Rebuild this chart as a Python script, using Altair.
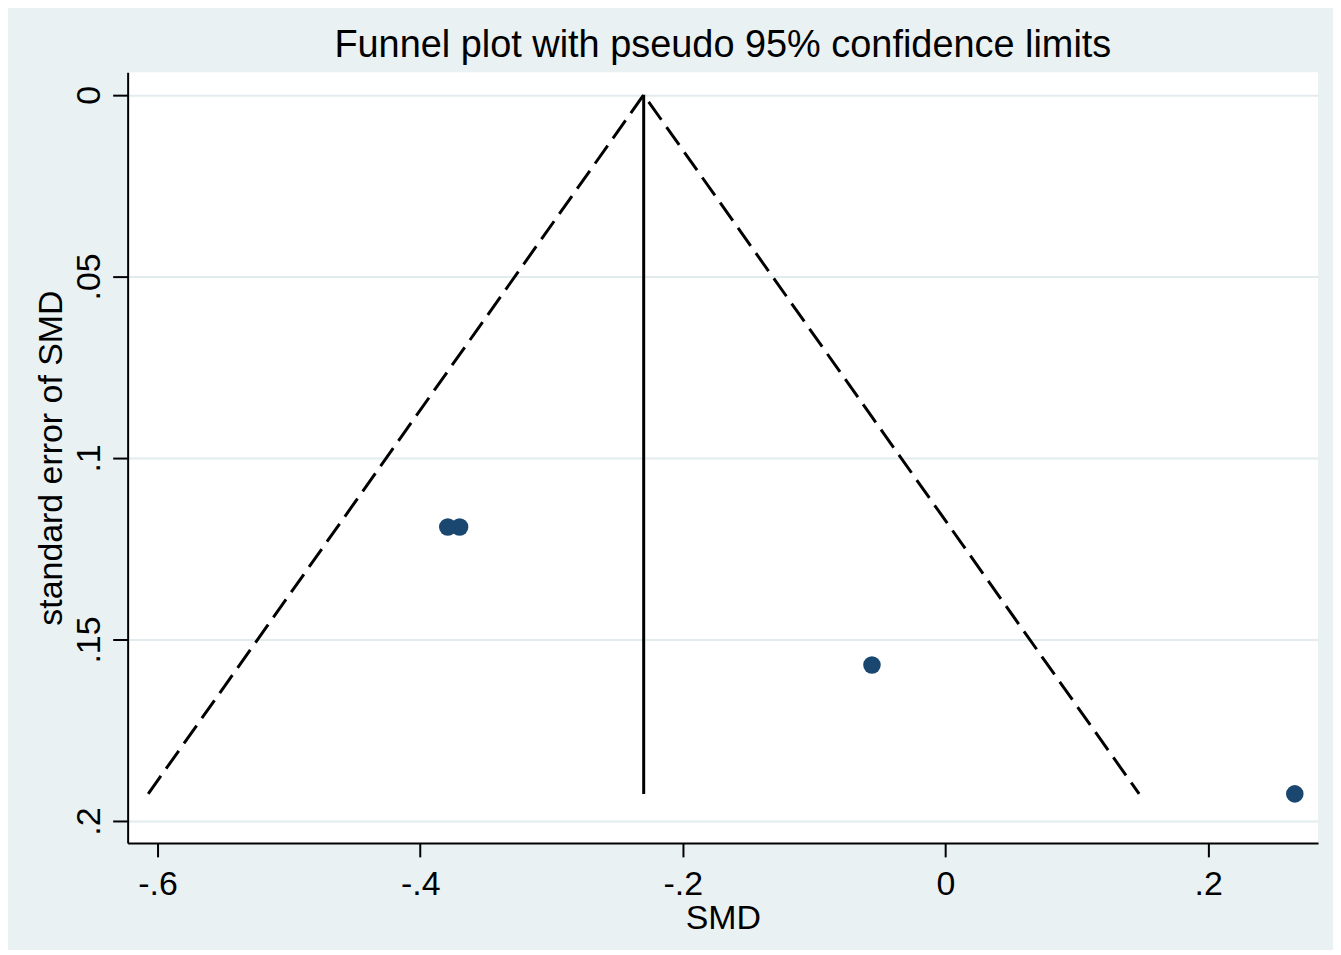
import altair as alt
import pandas as pd

# Study-level data
smd = [-0.379, -0.370, -0.056, 0.266]
se_smd = [0.119, 0.119, 0.157, 0.1925]

x_ticks = [-0.6, -0.4, -0.2, 0, 0.2]
y_ticks = [0, 0.05, 0.1, 0.15, 0.2]

# Fixed-effect pooled estimate and pseudo 95% limits
w = [1 / s ** 2 for s in se_smd]
pooled = sum(wi * xi for wi, xi in zip(w, smd)) / sum(w)
se_max = max(se_smd)

points = pd.DataFrame({"SMD": smd, "se": se_smd})
funnel = pd.DataFrame({
    "SMD": [pooled - 1.96 * se_max, pooled, pooled + 1.96 * se_max],
    "se": [se_max, 0.0, se_max],
    "order": [0, 1, 2],
})
center = pd.DataFrame({"SMD": [pooled], "se": [0.0], "se2": [se_max]})

FONT = "Liberation Sans"
BG = "#E9F1F3"
GRID = "#E2ECEF"

xscale = alt.Scale(domain=[-0.6228, 0.2837], nice=False, zero=False)
yscale = alt.Scale(domain=[-0.00623, 0.206], nice=False, zero=False, reverse=True)

label_expr = "replace(replace(format(datum.value, '.2~f'), '0.', '.'), '\u2212', '-')"

xaxis = alt.Axis(
    values=x_ticks, grid=False, labelExpr=label_expr, title="SMD",
    labelFontSize=34, titleFontSize=34, labelFont=FONT, titleFont=FONT,
    labelColor="black", titleColor="black", titleFontWeight="normal",
    tickSize=14, tickColor="black", tickWidth=2,
    domainColor="black", domainWidth=2,
    labelBaseline="alphabetic", labelPadding=38, labelOverlap=False, labelFlush=False,
    titleBaseline="alphabetic", titleY=86,
)
yaxis = alt.Axis(
    values=y_ticks, grid=True, gridColor=GRID, gridWidth=2,
    labelExpr=label_expr, title="standard error of SMD",
    labelFontSize=34, titleFontSize=34, labelFont=FONT, titleFont=FONT,
    labelColor="black", titleColor="black", titleFontWeight="normal",
    labelAngle=270, labelAlign="center", labelBaseline="alphabetic", labelPadding=13,
    labelOverlap=False, labelFlush=False,
    tickSize=15, tickColor="black", tickWidth=2,
    domainColor="black", domainWidth=2,
    titleAngle=270, titleAlign="center", titleBaseline="alphabetic", titleX=-66,
)

dashed = alt.Chart(funnel).mark_line(
    color="black", strokeWidth=3, strokeDash=[22, 9], clip=True
).encode(
    x=alt.X("SMD:Q", scale=xscale, axis=xaxis),
    y=alt.Y("se:Q", scale=yscale, axis=yaxis),
    order="order:Q",
)

vline = alt.Chart(center).mark_rule(color="black", strokeWidth=3).encode(
    x=alt.X("SMD:Q", scale=xscale),
    y=alt.Y("se:Q", scale=yscale),
    y2="se2:Q",
)

dots = alt.Chart(points).mark_circle(size=310, color="#1A476F", opacity=1).encode(
    x=alt.X("SMD:Q", scale=xscale),
    y=alt.Y("se:Q", scale=yscale),
)

chart = alt.layer(dashed, vline, dots).properties(
    width=1194,
    height=773,
    background=BG,
    padding={"left": 120, "top": 63, "right": 15, "bottom": 106},
    autosize=alt.AutoSizeParams(type="none"),
    title=alt.TitleParams(
        "Funnel plot with pseudo 95% confidence limits",
        font=FONT, fontSize=38, fontWeight="normal", color="black",
        anchor="middle", baseline="alphabetic", offset=14, dy=37,
    ),
).configure_view(stroke=None, fill="white")

chart.save("out.html", embed_options={"renderer": "svg", "actions": False})
